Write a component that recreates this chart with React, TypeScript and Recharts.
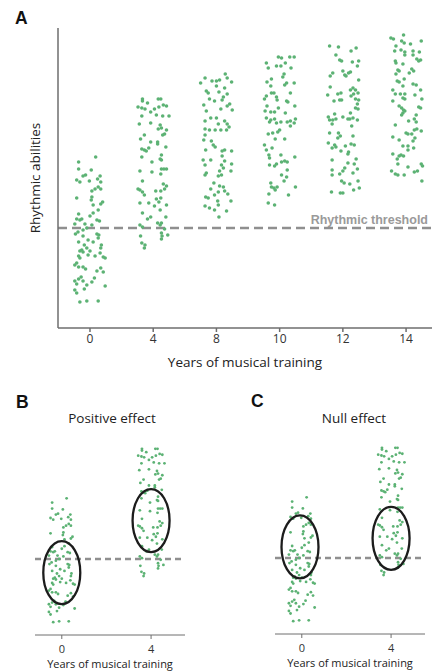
import { ScatterChart, Scatter, XAxis, YAxis, ReferenceLine, ReferenceDot } from "recharts";

const YEARS = [0, 4, 8, 10, 12, 14];
const THRESHOLD = 100;

// each participant: [jitter around its group, rhythmic score]
const yr0: [number, number][] = [
  [0.09, 171], [-0.18, 166], [-0.18, 159], [0.02, 158], [-0.07, 153], [-0.11, 152], [-0.21, 148], [-0.16, 146],
  [0.16, 152], [0.12, 149], [-0.01, 147], [0.17, 146], [0.13, 141], [0.08, 139], [0.03, 137], [0.17, 139],
  [-0.21, 130], [0.03, 131], [0.02, 128], [0.05, 123], [0.2, 126], [0.17, 124], [0.13, 118], [-0.18, 114],
  [0.05, 115], [0, 112], [-0.21, 109], [-0.16, 108], [-0.13, 109], [0.11, 108], [0.15, 107], [-0.24, 104],
  [-0.08, 104], [0.03, 103], [-0.05, 100], [-0.11, 98], [-0.19, 96], [-0.23, 94], [0.11, 94], [0.14, 93],
  [-0.11, 92], [0.13, 90], [-0.03, 88], [-0.18, 86], [0.05, 86], [-0.09, 83], [0.18, 83], [0.17, 80],
  [-0.05, 80], [-0.13, 78], [-0.16, 77], [0, 77], [-0.11, 76], [0.16, 75], [-0.18, 72], [0.08, 72],
  [-0.03, 73], [0.21, 71], [-0.16, 70], [0.24, 70], [-0.21, 65], [-0.24, 63], [-0.18, 61], [-0.11, 61],
  [-0.07, 59], [0.17, 60], [0.21, 56], [0.11, 57], [-0.14, 51], [-0.18, 49], [-0.24, 47], [0.07, 50],
  [-0.11, 47], [0.03, 46], [-0.21, 44], [-0.05, 43], [0.24, 42], [-0.24, 38], [-0.09, 39], [-0.21, 35],
  [-0.16, 26], [-0.05, 27], [0.13, 27],
];
const yr4: [number, number][] = [
  [-0.17, 229], [-0.17, 227], [-0.09, 225], [0.08, 229], [0.12, 229], [-0.24, 221], [-0.18, 220], [-0.13, 219],
  [0.02, 219], [0.09, 221], [0.16, 223], [0.21, 222], [-0.04, 216], [-0.18, 212], [0.05, 213], [0.15, 212],
  [0.25, 212], [-0.22, 204], [-0.04, 205], [0.11, 203], [0.13, 200], [0.08, 199], [0.21, 198], [0.18, 194],
  [0.15, 193], [-0.14, 193], [-0.2, 189], [-0.04, 186], [0.07, 186], [0.07, 184], [-0.18, 179], [-0.14, 178],
  [-0.11, 177], [-0.07, 180], [0.2, 181], [0.13, 173], [-0.18, 171], [0.11, 169], [0.13, 168], [-0.02, 166],
  [0.13, 159], [0.17, 159], [0.21, 159], [-0.21, 157], [-0.02, 156], [0.12, 154], [-0.17, 147], [-0.24, 139],
  [-0.21, 138], [-0.17, 136], [0.16, 144], [0.21, 142], [0.18, 139], [0.12, 137], [0.04, 137], [-0.14, 133],
  [-0.21, 125], [-0.07, 125], [0.05, 129], [0.12, 130], [0.02, 122], [0.09, 126], [0.21, 123], [0.11, 118],
  [0.2, 111], [-0.17, 115], [-0.04, 111], [-0.09, 109], [0.07, 105], [0.11, 103], [0.13, 105], [-0.21, 103],
  [-0.17, 101], [0.18, 99], [0.13, 95], [0.23, 93], [0.14, 92], [0.13, 89], [-0.2, 92], [-0.18, 85],
  [-0.13, 83], [-0.14, 80],
];
const yr8: [number, number][] = [
  [0.14, 254], [-0.18, 250], [-0.25, 245], [-0.07, 247], [0, 247], [0.05, 248], [0.17, 250], [0.24, 246],
  [-0.16, 237], [-0.13, 235], [0, 242], [0.04, 236], [0.13, 240], [0.17, 234], [0.11, 231], [-0.11, 229],
  [-0.03, 227], [0.09, 228], [-0.2, 223], [0.21, 224], [0.17, 222], [0.07, 219], [0.25, 218], [-0.16, 217],
  [-0.18, 207], [-0.09, 210], [0, 210], [0.13, 207], [0.17, 204], [0.03, 204], [-0.18, 199], [-0.11, 198],
  [-0.02, 198], [0.07, 198], [0.2, 201], [0.16, 198], [-0.18, 193], [-0.2, 188], [-0.08, 187], [-0.05, 183],
  [-0.02, 181], [0.13, 178], [0.09, 177], [0.24, 177], [-0.17, 178], [0.09, 172], [-0.21, 168], [-0.09, 168],
  [-0.18, 163], [0.13, 167], [0.08, 163], [0.11, 160], [0.24, 164], [0.05, 157], [0.23, 157], [0.08, 153],
  [-0.16, 155], [0.03, 152], [-0.18, 153], [-0.04, 145], [-0.09, 139], [0.05, 142], [0.11, 141], [0.13, 137],
  [0.03, 136], [-0.03, 133], [-0.17, 131], [-0.13, 130], [0.18, 134], [0.02, 127], [0.23, 127], [-0.18, 122],
  [-0.11, 120], [0.03, 123], [0.16, 117], [-0.03, 118], [0.04, 111],
];
const yr10: [number, number][] = [
  [-0.02, 271], [0.03, 270], [0.16, 271], [0.23, 271], [-0.21, 265], [-0.18, 260], [-0.05, 262], [0.02, 262],
  [0.09, 265], [0.18, 260], [0.07, 254], [0.05, 251], [-0.13, 249], [-0.2, 246], [-0.14, 242], [0.08, 243],
  [0.11, 245], [0.23, 245], [-0.21, 232], [-0.24, 229], [-0.13, 235], [-0.09, 235], [-0.05, 231], [-0.04, 228],
  [0.11, 227], [0.13, 226], [0.17, 235], [0.24, 222], [-0.2, 222], [-0.23, 217], [-0.14, 216], [-0.08, 216],
  [-0.02, 220], [0.09, 215], [-0.21, 210], [-0.14, 208], [-0.16, 206], [-0.08, 209], [0.02, 206], [-0.05, 205],
  [0.12, 206], [0.17, 207], [0.23, 205], [0.25, 209], [0.17, 202], [-0.18, 194], [-0.11, 195], [-0.03, 196],
  [0, 198], [-0.07, 189], [0.08, 189], [-0.24, 183], [-0.21, 178], [-0.12, 180], [-0.17, 173], [-0.16, 170],
  [0.02, 173], [0.24, 171], [0.03, 166], [0.08, 167], [0.12, 166], [-0.16, 163], [-0.08, 162], [-0.05, 164],
  [0.12, 158], [0.03, 153], [0.11, 151], [-0.14, 145], [-0.13, 141], [-0.09, 140], [-0.04, 141], [-0.07, 138],
  [0.07, 147], [0.25, 141], [-0.17, 134], [0.14, 133], [-0.18, 125], [-0.08, 123],
];
const yr12: [number, number][] = [
  [-0.21, 282], [-0.07, 281], [0.13, 277], [0.21, 280], [-0.11, 273], [-0.05, 268], [-0.02, 267], [0.15, 266],
  [0.25, 267], [0.23, 262], [0, 257], [0.03, 253], [0.05, 252], [0.09, 255], [0.12, 256], [-0.16, 255],
  [-0.2, 252], [0.25, 248], [-0.2, 241], [-0.24, 233], [-0.08, 234], [-0.03, 235], [-0.14, 227], [-0.05, 228],
  [-0.02, 228], [0.12, 238], [0.16, 240], [0.2, 238], [0.17, 234], [0.24, 235], [0.13, 232], [0.2, 229],
  [0.25, 228], [0.23, 224], [0.2, 220], [0.24, 219], [0.12, 215], [-0.13, 214], [-0.23, 211], [-0.21, 208],
  [-0.16, 208], [-0.11, 209], [0, 211], [0.08, 209], [0.11, 209], [0.16, 210], [0.23, 208], [-0.17, 204],
  [0.14, 202], [-0.21, 195], [-0.07, 195], [-0.04, 192], [-0.08, 190], [0.16, 192], [-0.23, 185], [-0.13, 183],
  [-0.17, 180], [-0.11, 181], [0.04, 182], [0.13, 184], [0.18, 183], [-0.03, 177], [0.09, 176], [0.08, 174],
  [0.21, 169], [-0.17, 168], [0.08, 165], [0.18, 164], [0.03, 160], [-0.17, 158], [0.23, 159], [0.16, 155],
  [-0.05, 154], [0, 157], [-0.17, 153], [-0.02, 147], [0.02, 145], [0.11, 144], [0.24, 147], [0.26, 140],
  [0.17, 138], [-0.18, 136], [-0.04, 135], [0, 135],
];
const yr14: [number, number][] = [
  [-0.04, 293], [-0.24, 290], [-0.2, 289], [-0.07, 287], [-0.03, 285], [0.07, 284], [0.24, 287], [-0.16, 282],
  [-0.18, 277], [-0.08, 278], [-0.02, 276], [-0.02, 273], [0.11, 277], [0.21, 276], [0.11, 273], [0.17, 269],
  [0.2, 267], [0.23, 268], [-0.17, 267], [-0.16, 265], [-0.05, 264], [-0.13, 258], [-0.11, 257], [-0.16, 254],
  [0.09, 259], [0.12, 257], [0.05, 255], [-0.14, 247], [-0.11, 246], [-0.03, 249], [-0.05, 242], [-0.21, 238],
  [0.11, 244], [0.16, 243], [0.23, 238], [-0.17, 234], [-0.09, 234], [-0.02, 234], [-0.05, 230], [-0.02, 229],
  [0.14, 233], [0.25, 229], [-0.21, 227], [-0.11, 222], [-0.07, 220], [-0.04, 218], [-0.02, 217], [-0.05, 215],
  [-0.07, 213], [0.2, 221], [0.23, 220], [0.16, 213], [0.13, 209], [0.16, 206], [0.04, 207], [-0.17, 203],
  [0.17, 199], [0.13, 198], [0.24, 197], [0, 195], [0.03, 194], [0.09, 194], [0.14, 190], [-0.21, 191],
  [-0.11, 188], [0.11, 187], [-0.05, 182], [0.03, 182], [0.03, 178], [0.12, 180], [-0.21, 174], [-0.11, 172],
  [-0.08, 173], [-0.04, 172], [-0.14, 169], [-0.13, 164], [0.03, 161], [0.24, 164], [0.26, 162], [-0.23, 157],
  [-0.17, 154], [-0.13, 153], [-0.03, 153], [0.13, 156], [0.18, 157], [0.25, 147],
];

const GROUPS = [yr0, yr4, yr8, yr10, yr12, yr14];

// centres of the circled subgroups: [group index, score]
const positiveRings: [number, number][] = [[0, 84], [1, 145]];
const nullRings: [number, number][] = [[-0.02, 113], [1, 123]];

const GREEN = "#5cb274";
const GREY = "#8f8f8f";
const AXIS = "#6e6e6e";
const SANS = "'Open Sans', sans-serif";
const ARIAL = "'Liberation Sans', Arial, sans-serif";

const toPoints = (pts: [number, number][], i: number, spread: number) =>
  pts.map(([j, v]) => ({ x: i + j * spread, y: v }));

const dot = (r: number) => (p: any) => <circle cx={p.cx} cy={p.cy} r={r} fill={GREEN} />;

const ring = (p: any) => (
  <ellipse cx={p.cx} cy={p.cy} rx={18.5} ry={31.5} fill="none" stroke="#1c1c1c" strokeWidth={2.3} />
);

const YLabel = ({ viewBox }: any) => {
  const x = viewBox.x + viewBox.width - 23;
  const y = viewBox.y + viewBox.height / 2;
  return (
    <text x={x} y={y} transform={`rotate(-90 ${x} ${y})`} textAnchor="middle" dominantBaseline="central" fontSize={13.5} fill="#222">
      Rhythmic abilities
    </text>
  );
};

const Letter = ({ ch, left, top }: { ch: string; left: number; top: number }) => (
  <div style={{ position: "absolute", left, top, fontFamily: ARIAL, fontWeight: "bold", fontSize: 17.5, lineHeight: 1, color: "#111" }}>
    {ch}
  </div>
);

const EffectPanel = ({ rings, left, top, width, mLeft, mRight }: any) => (
  <div style={{ position: "absolute", left, top }}>
    <ScatterChart width={width} height={281} margin={{ top: 40, right: mRight, bottom: 6, left: mLeft }}>
      <XAxis
        type="number"
        dataKey="x"
        domain={[-0.3, 1.38]}
        allowDataOverflow
        ticks={[0, 1]}
        interval={0}
        tickFormatter={(i: number) => String(YEARS[i])}
        height={30}
        stroke={AXIS}
        tickSize={4}
        tickMargin={6}
        tick={{ fontSize: 11, fill: "#333" }}
        label={{ value: "Years of musical training", position: "bottom", offset: -5, fontSize: 11, fill: "#222" }}
      />
      <YAxis type="number" dataKey="y" domain={[11, 251]} allowDataOverflow hide />
      {[yr0, yr4].map((g, i) => (
        <Scatter key={i} data={toPoints(g, i, 0.6)} shape={dot(1.4)} isAnimationActive={false} />
      ))}
      <ReferenceLine y={THRESHOLD} stroke={GREY} strokeWidth={2.5} strokeDasharray="6 4" />
      {rings.map(([x, y]: [number, number], i: number) => (
        <ReferenceDot key={i} x={x} y={y} shape={ring} />
      ))}
    </ScatterChart>
  </div>
);

export default function App() {
  return (
    <div style={{ position: "absolute", left: 0, top: 0, width: 432, height: 671, overflow: "hidden", background: "#fff", fontFamily: SANS }}>
      <Letter ch="A" left={15} top={10} />
      <div style={{ position: "absolute", left: 0, top: 0 }}>
        <ScatterChart width={432} height={380} margin={{ top: 28, right: 0, bottom: 22, left: 57 }}>
          <XAxis
            type="number"
            dataKey="x"
            domain={[-0.506, 5.41]}
            allowDataOverflow
            ticks={[0, 1, 2, 3, 4, 5]}
            interval={0}
            tickFormatter={(i: number) => String(YEARS[i])}
            height={30}
            stroke={AXIS}
            strokeWidth={1.5}
            tickSize={4}
            tickMargin={2}
            tick={{ fontSize: 12, fill: "#333" }}
            label={{ value: "Years of musical training", position: "bottom", offset: -1, fontSize: 13.5, fill: "#222" }}
          />
          <YAxis
            type="number"
            dataKey="y"
            domain={[0, 300]}
            allowDataOverflow
            width={1}
            tick={false}
            tickLine={false}
            axisLine={{ stroke: AXIS, strokeWidth: 1.5 }}
            label={(props: any) => <YLabel {...props} />}
          />
          {GROUPS.map((g, i) => (
            <Scatter key={i} data={toPoints(g, i, 1)} shape={dot(1.8)} isAnimationActive={false} />
          ))}
          <ReferenceLine
            y={THRESHOLD}
            stroke={GREY}
            strokeWidth={2.5}
            strokeDasharray="9 5"
            label={{ value: "Rhythmic threshold", position: "insideBottomRight", offset: 4, fontSize: 12.5, fontWeight: "bold", fill: "#9a9a9a", fontFamily: ARIAL }}
          />
        </ScatterChart>
      </div>

      <Letter ch="B" left={16} top={394} />
      <div style={{ position: "absolute", left: 2, top: 412, width: 220, textAlign: "center", fontSize: 13.5, lineHeight: 1, color: "#222" }}>
        Positive effect
      </div>
      <EffectPanel rings={positiveRings} left={0} top={390} width={220} mLeft={35} mRight={35} />

      <Letter ch="C" left={251} top={393} />
      <div style={{ position: "absolute", left: 260, top: 412, width: 188, textAlign: "center", fontSize: 13.5, lineHeight: 1, color: "#222" }}>
        Null effect
      </div>
      <EffectPanel rings={nullRings} left={240} top={389} width={192} mLeft={35} mRight={7} />
    </div>
  );
}
